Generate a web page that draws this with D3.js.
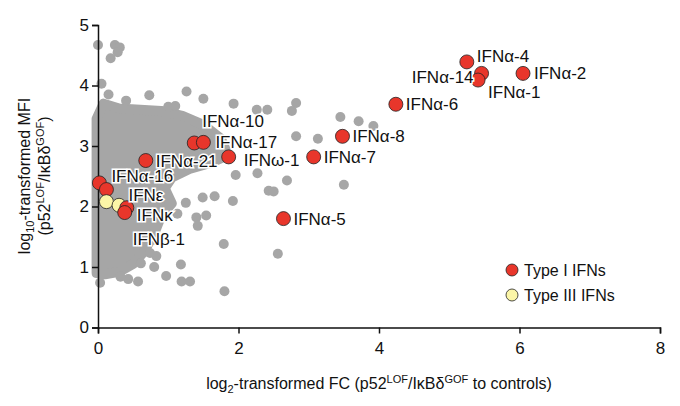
<!DOCTYPE html>
<html><head><meta charset="utf-8">
<script src="https://cdn.jsdelivr.net/npm/d3@7"></script>
<style>body{margin:0;background:#fff}text{font-family:"Liberation Sans",Arial,sans-serif;fill:#111}</style>
</head><body><svg id="c" width="680" height="406"></svg>
<script>
// dense gray cloud outline (data coords: log2 FC, log10 MFI)
const cloudOutline = [[-0.02,0.9],[-0.02,3.45],[0.08,3.7],[0.3,3.62],[0.6,3.6],[0.9,3.58],[1.2,3.5],[1.5,3.35],[1.75,3.12],[1.85,2.85],[1.6,2.72],[1.3,2.62],[1.05,2.48],[0.95,2.3],[1.05,2.05],[0.9,1.85],[0.8,1.55],[0.65,1.25],[0.5,1.05],[0.3,0.92],[0.1,0.88]];
// scattered gray points
const grayX = [0.0,0.24,0.31,0.28,0.18,0.73,1.26,1.5,1.93,2.82,2.76,2.41,2.26,3.45,3.71,3.92,2.82,3.13,1.96,2.27,2.69,2.43,2.5,3.5,1.66,1.92,1.49,1.4,1.54,1.42,1.79,2.56,1.8,1.18,1.19,1.31,0.97,0.8,0.61,0.57,0.43,0.32,0.03,0.83,0.74,0.82,1.25,1.13,0.05,0.15,0.4,1.0,1.1];
const grayY = [4.67,4.67,4.63,4.55,4.45,3.84,3.9,3.78,3.7,3.71,3.58,3.6,3.6,3.48,3.41,3.33,3.16,3.12,2.52,2.55,2.43,2.26,2.25,2.36,2.17,2.09,2.15,1.82,1.85,1.68,1.38,1.22,0.6,1.04,0.76,0.76,0.85,1.0,1.06,0.76,0.8,0.84,0.74,1.18,1.23,1.45,2.06,1.88,4.03,3.85,3.75,3.65,3.66];
// highlighted IFNs
const ifnNames = ["IFNα-4","IFNα-14","IFNα-1","IFNα-2","IFNα-6","IFNα-8","IFNα-7","IFNα-5","IFNα-10","IFNα-17","IFNω-1","IFNα-21","IFNα-16","","IFNε","","IFNκ","IFNβ-1"];
const ifnX = [5.25,5.46,5.41,6.05,4.24,3.48,3.07,2.64,1.37,1.5,1.86,0.68,0.02,0.12,0.12,0.3,0.41,0.38];
const ifnY = [4.39,4.2,4.09,4.2,3.69,3.16,2.82,1.8,3.05,3.06,2.82,2.76,2.39,2.28,2.08,2.02,1.98,1.9];
const ifnType = ["I","I","I","I","I","I","I","I","I","I","I","I","I","I","III","III","I","I"];
// label offsets in px [dx, dy, anchor]
const labelPos = [[10,0,"start"],[-8,10,"end"],[10,18,"start"],[11,6,"start"],[10,6,"start"],[10,6,"start"],[10,6,"start"],[10,6,"start"],[8,-16,"start"],[12,6,"start"],[15,9,"start"],[10,6,"start"],[12,-1,"start"],[0,0,"start"],[22,-1,"start"],[0,0,"start"],[10,13,"start"],[8,32,"start"]];
const xTicks = [0,2,4,6,8], yTicks = [0,1,2,3,4,5];
const legendNames = ["Type I IFNs","Type III IFNs"];
const colors = {I:"#e8362b", III:"#fbf5a7"};

const svg = d3.select("#c");
const x = d3.scaleLinear().domain([0,8]).range([98,660]);
const y = d3.scaleLinear().domain([0,5]).range([327.5,25]);

svg.append("path").datum(cloudOutline)
  .attr("d", d3.line().x(d=>x(d[0])).y(d=>y(d[1])).curve(d3.curveLinearClosed))
  .attr("fill","#a6a6a6").attr("stroke","#a6a6a6").attr("stroke-width",10).attr("stroke-linejoin","round");
svg.append("g").selectAll("circle").data(grayX).join("circle")
  .attr("cx",d=>x(d)).attr("cy",(d,i)=>y(grayY[i])).attr("r",5).attr("fill","#a6a6a6");

const ax = svg.append("g").attr("transform","translate(0,327.5)")
  .call(d3.axisBottom(x).tickValues(xTicks).tickSize(6).tickFormat(d3.format("d")));
const ay = svg.append("g").attr("transform","translate(98,0)")
  .call(d3.axisLeft(y).tickValues(yTicks).tickSize(6).tickFormat(d3.format("d")));
[ax,ay].forEach(a=>{a.selectAll("path,line").attr("stroke","#111").attr("stroke-width",1.5);
  a.selectAll("text").attr("font-size",17).attr("font-family","Liberation Sans,Arial");});
ax.selectAll("text").attr("dy","1em");

const pts = svg.append("g");
ifnX.forEach((v,i)=>{
  pts.append("circle").attr("cx",x(v)).attr("cy",y(ifnY[i])).attr("r",7)
    .attr("fill",colors[ifnType[i]]).attr("stroke","#222").attr("stroke-width",0.8);
});
ifnNames.forEach((n,i)=>{
  if(!n) return;
  const p = labelPos[i];
  svg.append("text").attr("x",x(ifnX[i])+p[0]).attr("y",y(ifnY[i])+p[1])
    .attr("text-anchor",p[2]).attr("font-size",17).attr("stroke","#fff").attr("stroke-width",3)
    .attr("paint-order","stroke").text(n);
});

legendNames.forEach((n,i)=>{
  svg.append("circle").attr("cx",512).attr("cy",270+i*25).attr("r",6)
    .attr("fill",i?colors.III:colors.I).attr("stroke","#222").attr("stroke-width",0.8);
  svg.append("text").attr("x",524).attr("y",276+i*25).attr("font-size",16).text(n);
});

const xt = svg.append("text").attr("x",379).attr("y",389).attr("text-anchor","middle").attr("font-size",16);
xt.append("tspan").text("log");
xt.append("tspan").attr("font-size",11).attr("dy",4).text("2");
xt.append("tspan").attr("dy",-4).text("-transformed FC (p52");
xt.append("tspan").attr("font-size",11).attr("dy",-6).text("LOF");
xt.append("tspan").attr("dy",6).text("/IκBδ");
xt.append("tspan").attr("font-size",11).attr("dy",-6).text("GOF");
xt.append("tspan").attr("dy",6).text(" to controls)");

const yt = svg.append("g").attr("transform","translate(30,176) rotate(-90)");
const y1 = yt.append("text").attr("text-anchor","middle").attr("font-size",16).attr("y",0);
y1.append("tspan").text("log");
y1.append("tspan").attr("font-size",11).attr("dy",4).text("10");
y1.append("tspan").attr("dy",-4).text("-transformed MFI");
const y2 = yt.append("text").attr("text-anchor","middle").attr("font-size",16).attr("y",20);
y2.append("tspan").text("(p52");
y2.append("tspan").attr("font-size",11).attr("dy",-6).text("LOF");
y2.append("tspan").attr("dy",6).text("/IκBδ");
y2.append("tspan").attr("font-size",11).attr("dy",-6).text("GOF");
y2.append("tspan").attr("dy",6).text(")");
</script></body></html>
